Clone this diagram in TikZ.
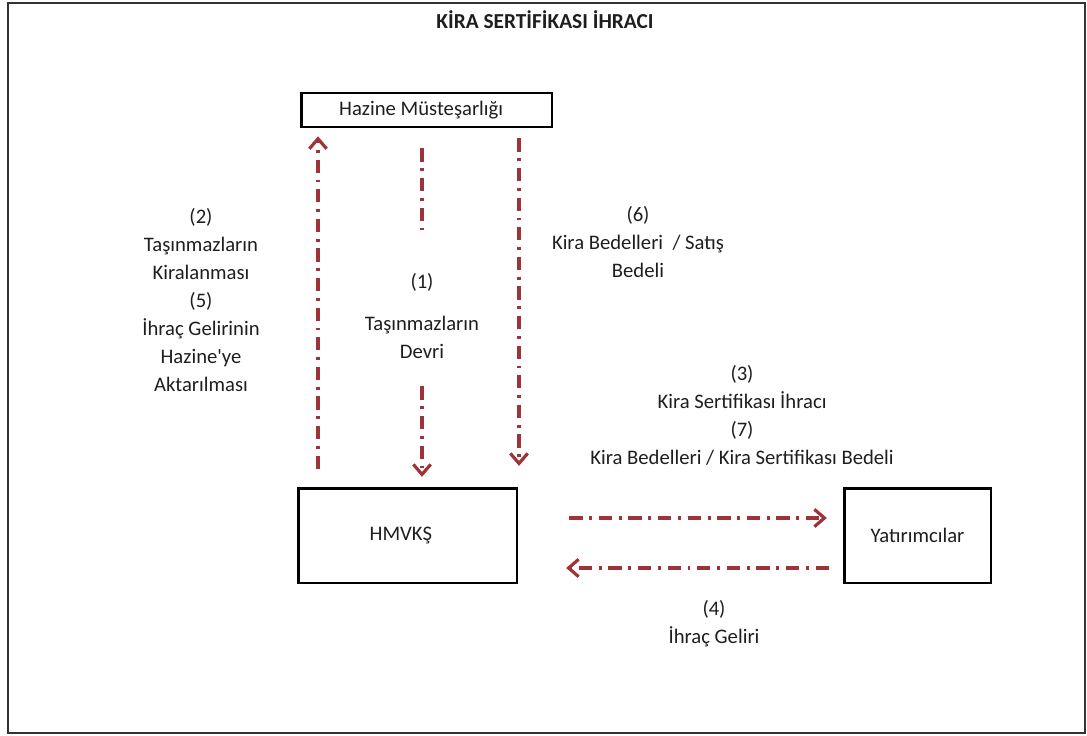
\documentclass[tikz,border=0pt]{standalone}
\usepackage{fontspec}
\setmainfont{Carlito}
\usetikzlibrary{arrows.meta}

\definecolor{flowred}{RGB}{158,52,58}
\definecolor{inkgray}{RGB}{30,30,30}

\tikzset{
  box/.style={draw=black, line width=2pt, inner sep=0pt, text=inkgray,
    font=\fontsize{15.5}{21}\selectfont},
  lbl/.style={align=center, inner sep=0pt, text=inkgray,
    font=\fontsize{15.5}{21}\selectfont},
  flow/.style={draw=flowred, line width=2.4pt,
    dash pattern=on 10pt off 5pt on 2.2pt off 5pt,
    -{Straight Barb[length=7.5pt,width=13pt]}},
}

\begin{document}
\begin{tikzpicture}[x=0.75pt,y=-0.75pt]

% Page size and outer frame
\useasboundingbox (0,0) rectangle (1087,735);
\draw[line width=1.5pt, black!80] (8,3) rectangle (1085,733);

% Title
\node[text=inkgray, font=\fontsize{16}{19}\selectfont\bfseries] (title) at (545,20) {KİRA SERTİFİKASI İHRACI};

% Boxes
\node[box, minimum width=188pt, minimum height=25.5pt] (hazine) at (426.5,110) {Hazine Müsteşarlığı\hspace*{8pt}};
\node[box, minimum width=164pt, minimum height=71pt] (hmvks) at (407.5,535.5) {HMVKŞ\hspace*{10pt}};
\node[box, minimum width=110pt, minimum height=71pt] (yatirim) at (917.5,535.5) {Yatırımcılar};

% Arrow (2)/(5): HMVKŞ up to Hazine
\draw[flow, shorten <=13.5pt, shorten >=6pt] (318,0 |- hmvks.north) -- (318,0 |- hazine.south);

% Arrow (1): Hazine down to HMVKŞ, broken by its label
\draw[flow, -, shorten <=15pt, shorten >=187.5pt] (422,0 |- hazine.south) -- (422,0 |- hmvks.north);
\draw[flow, shorten <=193.5pt, shorten >=7.5pt] (422,0 |- hazine.south) -- (422,0 |- hmvks.north);

% Arrow (6): Hazine down to HMVKŞ
\draw[flow, shorten <=7.5pt, shorten >=15.75pt] (519,0 |- hazine.south) -- (519,0 |- hmvks.north);

% Arrow (3)/(7): HMVKŞ to Yatırımcılar
\draw[flow, shorten <=38.25pt, shorten >=12pt] (0,518 -| hmvks.east) -- (0,518 -| yatirim.west);

% Arrow (4): Yatırımcılar back to HMVKŞ
\draw[flow, shorten <=10.5pt, shorten >=36pt] (0,568 -| yatirim.west) -- (0,568 -| hmvks.east);

% Labels
\node[lbl] (kiralama) at (201,300) {(2)\\Taşınmazların\\Kiralanması\\(5)\\İhraç Gelirinin\\Hazine\textquotesingle ye\\Aktarılması};
\node[lbl] (devri) at (422,316) {(1)\\[10pt]Taşınmazların\\Devri};
\node[lbl] (bedel) at (638,242) {(6)\\Kira Bedelleri~~/ Satış\\Bedeli};
\node[lbl] (ihrac) at (742,415) {(3)\\Kira Sertifikası İhracı\\(7)\\Kira Bedelleri / Kira Sertifikası Bedeli};
\node[lbl] (gelir) at (714,624) {(4)\\İhraç Geliri};

\end{tikzpicture}
\end{document}
